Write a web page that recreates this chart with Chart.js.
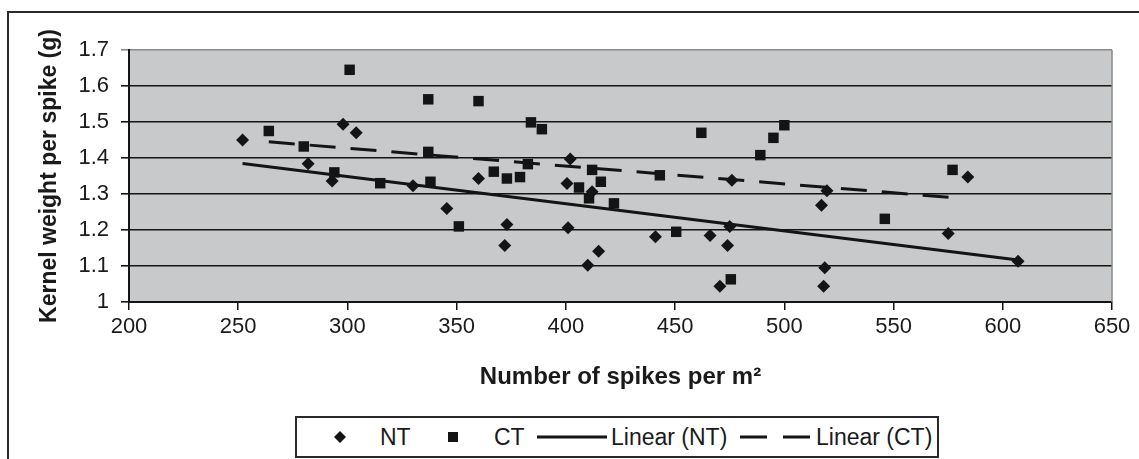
<!DOCTYPE html>
<html>
<head>
<meta charset="utf-8">
<script src="https://cdn.jsdelivr.net/npm/chart.js@4.4.1/dist/chart.umd.min.js"></script>
<style>
  html, body { margin: 0; padding: 0; background: #fff; overflow: hidden; }
  #wrap { position: relative; width: 1139px; height: 459px; overflow: hidden; font-family: "Liberation Sans", Arial, sans-serif; color: #1a1a1a; }
  #c { position: absolute; left: 0; top: 0; }
  #frame { position: absolute; left: 7px; top: 11px; width: 1200px; height: 600px; border-top: 2px solid #2a2a2a; border-left: 2px solid #2a2a2a; }
  #legend { position: absolute; left: 295px; top: 416px; width: 640px; height: 38px; border: 2px solid #2a2a2a; background: #fff; }
  .li { position: absolute; top: 0; height: 38px; line-height: 38px; font-size: 23px; white-space: nowrap; }
  .li svg { position: absolute; top: 0; }
</style>
</head>
<body>
<div id="wrap">
  <div id="frame"></div>
  <canvas id="c" width="1139" height="459"></canvas>
  <div id="legend"></div>
</div>
<script>
// ---- data ----
const ntX = [252, 282, 293, 298, 304, 330, 345.5, 360, 372, 373, 400.5, 401, 402, 410, 412, 415, 441, 466, 470.5, 474, 475, 476, 517, 518, 518.5, 519.5, 575, 584, 607];
const ntY = [1.45, 1.384, 1.336, 1.494, 1.47, 1.323, 1.26, 1.343, 1.157, 1.215, 1.329, 1.206, 1.397, 1.102, 1.306, 1.141, 1.181, 1.185, 1.044, 1.157, 1.21, 1.338, 1.269, 1.044, 1.095, 1.309, 1.19, 1.347, 1.113];
const ctX = [264, 280, 294, 301, 315, 337, 337, 338, 351, 360, 367, 373, 379, 382.6, 384, 389, 406, 410.6, 412, 416, 422, 443, 450.5, 462, 475.5, 489, 495, 500, 546, 577];
const ctY = [1.475, 1.432, 1.36, 1.645, 1.33, 1.563, 1.417, 1.334, 1.21, 1.558, 1.362, 1.343, 1.347, 1.383, 1.499, 1.48, 1.318, 1.288, 1.367, 1.334, 1.274, 1.352, 1.195, 1.47, 1.063, 1.408, 1.456, 1.491, 1.231, 1.367];
const seriesNames = ["NT", "CT", "Linear (NT)", "Linear (CT)"];
const xTicks = [200, 250, 300, 350, 400, 450, 500, 550, 600, 650];
const yTicks = [1, 1.1, 1.2, 1.3, 1.4, 1.5, 1.6, 1.7];
const xTitle = "Number of spikes per m\u00B2";
const yTitle = "Kernel weight per spike (g)";

function pts(xs, ys) { return xs.map((x, i) => ({ x: x, y: ys[i] })); }
function linFit(xs, ys) {
  const n = xs.length;
  const mx = xs.reduce((a, b) => a + b, 0) / n;
  const my = ys.reduce((a, b) => a + b, 0) / n;
  let sxy = 0, sxx = 0;
  for (let i = 0; i < n; i++) { sxy += (xs[i] - mx) * (ys[i] - my); sxx += (xs[i] - mx) ** 2; }
  const b = sxy / sxx, a = my - b * mx;
  const x0 = Math.min(...xs), x1 = Math.max(...xs);
  return [{ x: x0, y: a + b * x0 }, { x: x1, y: a + b * x1 }];
}

const INK = '#141414';
Chart.defaults.font.family = '"Liberation Sans", Arial, sans-serif';
Chart.defaults.color = '#1a1a1a';

const plotDeco = {
  id: 'plotDeco',
  beforeDraw(chart) {
    const { ctx, chartArea: a } = chart;
    ctx.save();
    ctx.fillStyle = '#c8c9cb';
    ctx.fillRect(a.left, a.top, a.right - a.left, a.bottom - a.top);
    ctx.restore();
  },
  beforeDatasetsDraw(chart) {
    const { ctx, chartArea: a } = chart;
    ctx.save();
    ctx.strokeStyle = '#8a8a8a';
    ctx.lineWidth = 1.5;
    ctx.beginPath();
    ctx.moveTo(a.right, a.top);
    ctx.lineTo(a.right, a.bottom);
    ctx.stroke();
    ctx.restore();
  }
};

new Chart(document.getElementById('c'), {
  type: 'scatter',
  data: {
    datasets: [
      { label: seriesNames[2], data: linFit(ntX, ntY), showLine: true, pointRadius: 0, borderColor: INK, borderWidth: 3, fill: false, order: 2 },
      { label: seriesNames[3], data: linFit(ctX, ctY), showLine: true, pointRadius: 0, borderColor: INK, borderWidth: 3, borderDash: [26, 15], fill: false, order: 2 },
      { label: seriesNames[0], data: pts(ntX, ntY), pointStyle: 'rectRot', pointRadius: 6.5, backgroundColor: INK, borderColor: INK, borderWidth: 0, order: 1 },
      { label: seriesNames[1], data: pts(ctX, ctY), pointStyle: 'rect', pointRadius: 7.4, backgroundColor: INK, borderColor: INK, borderWidth: 0, order: 1 }
    ]
  },
  options: {
    responsive: false,
    animation: false,
    layout: { padding: { left: 0, top: 50, right: 27, bottom: 59 } },
    plugins: { legend: { display: false }, tooltip: { enabled: false } },
    scales: {
      x: {
        type: 'linear', min: xTicks[0], max: xTicks[xTicks.length - 1],
        afterBuildTicks: s => { s.ticks = xTicks.map(v => ({ value: v })); },
        afterFit: s => { s.height = 98; },
        ticks: { font: { size: 22 }, color: '#1a1a1a', padding: 4, maxRotation: 0, autoSkip: false },
        grid: { drawOnChartArea: false, drawTicks: true, tickLength: 8, color: INK, lineWidth: 1.5 },
        border: { display: true, color: INK, width: 2 },
        title: { display: true, text: xTitle, font: { size: 24, weight: 'bold' }, color: '#1a1a1a', padding: { top: 0, bottom: 8 } }
      },
      y: {
        type: 'linear', min: yTicks[0], max: yTicks[yTicks.length - 1],
        afterBuildTicks: s => { s.ticks = yTicks.map(v => ({ value: v })); },
        afterFit: s => { s.width = 129; },
        ticks: { font: { size: 22 }, color: '#1a1a1a', padding: 12, callback: v => String(Number(v.toFixed(1))) },
        grid: {
          drawOnChartArea: true, drawTicks: true, tickLength: 8,
          color: c => (c.tick && Math.abs(c.tick.value - 1.7) < 1e-6) ? '#8a8a8a' : INK,
          lineWidth: 1.6
        },
        border: { display: true, color: INK, width: 2 },
        title: { display: true, text: yTitle, font: { size: 23, weight: 'bold' }, color: '#1a1a1a', padding: { top: 36, bottom: 0 } }
      }
    }
  },
  plugins: [plotDeco]
});

// ---- legend (HTML) ----
const legend = document.getElementById('legend');
const L = 297; // legend inner left in page coords
function item(html, leftPage) {
  const d = document.createElement('div');
  d.className = 'li';
  d.style.left = (leftPage - L) + 'px';
  d.innerHTML = html;
  legend.appendChild(d);
  return d;
}
item('<svg width="14" height="38" style="left:0"><polygon points="7,13 13,19 7,25 1,19" fill="' + INK + '"/></svg>', 333);
item(seriesNames[0], 380);
item('<svg width="12" height="38" style="left:0"><rect x="1" y="14" width="10" height="10" fill="' + INK + '"/></svg>', 447);
item(seriesNames[1], 494);
item('<svg width="72" height="38" style="left:0"><line x1="0" y1="19" x2="70" y2="19" stroke="' + INK + '" stroke-width="3"/></svg>', 537);
item(seriesNames[2], 611);
item('<svg width="72" height="38" style="left:0"><line x1="0" y1="19" x2="70" y2="19" stroke="' + INK + '" stroke-width="3" stroke-dasharray="27,16"/></svg>', 740);
item(seriesNames[3], 816);
</script>
</body>
</html>
